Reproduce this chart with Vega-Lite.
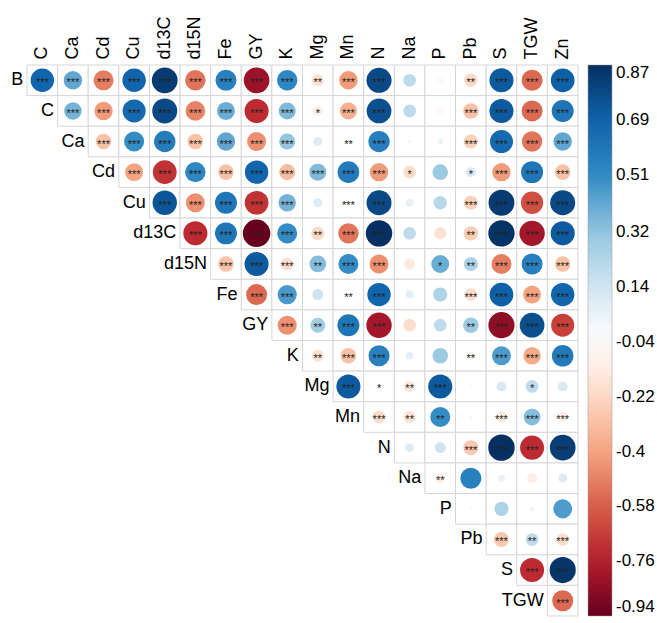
{
  "$schema": "https://vega.github.io/schema/vega-lite/v6.json",
  "width": 551,
  "height": 551,
  "autosize": {"type": "none"},
  "padding": {"left": 27, "top": 65, "right": 79, "bottom": 7},
  "config": {"view": {"stroke": null}, "font": "Liberation Sans", "background": "white"},
  "datasets": {
    "cells": [
      {"r":"B","c":"C","v":0.68,"s":"***"},{"r":"B","c":"Ca","v":0.42,"s":"***"},{"r":"B","c":"Cd","v":-0.5,"s":"***"},{"r":"B","c":"Cu","v":0.68,"s":"***"},{"r":"B","c":"d13C","v":0.83,"s":"***"},{"r":"B","c":"d15N","v":-0.52,"s":"***"},{"r":"B","c":"Fe","v":0.55,"s":"***"},{"r":"B","c":"GY","v":-0.82,"s":"***"},{"r":"B","c":"K","v":0.52,"s":"***"},{"r":"B","c":"Mg","v":-0.18,"s":"**"},{"r":"B","c":"Mn","v":-0.42,"s":"***"},{"r":"B","c":"N","v":0.78,"s":"***"},{"r":"B","c":"Na","v":0.2,"s":""},{"r":"B","c":"P","v":-0.07,"s":""},{"r":"B","c":"Pb","v":-0.22,"s":"**"},{"r":"B","c":"S","v":0.72,"s":"***"},{"r":"B","c":"TGW","v":-0.55,"s":"***"},{"r":"B","c":"Zn","v":0.7,"s":"***"},
      {"r":"C","c":"Ca","v":0.38,"s":"***"},{"r":"C","c":"Cd","v":-0.42,"s":"***"},{"r":"C","c":"Cu","v":0.66,"s":"***"},{"r":"C","c":"d13C","v":0.78,"s":"***"},{"r":"C","c":"d15N","v":-0.48,"s":"***"},{"r":"C","c":"Fe","v":0.4,"s":"***"},{"r":"C","c":"GY","v":-0.72,"s":"***"},{"r":"C","c":"K","v":0.36,"s":"***"},{"r":"C","c":"Mg","v":-0.12,"s":"*"},{"r":"C","c":"Mn","v":-0.36,"s":"***"},{"r":"C","c":"N","v":0.76,"s":"***"},{"r":"C","c":"Na","v":0.2,"s":""},{"r":"C","c":"P","v":-0.07,"s":""},{"r":"C","c":"Pb","v":-0.3,"s":"***"},{"r":"C","c":"S","v":0.72,"s":"***"},{"r":"C","c":"TGW","v":-0.55,"s":"***"},{"r":"C","c":"Zn","v":0.6,"s":"***"},
      {"r":"Ca","c":"Cd","v":-0.3,"s":"***"},{"r":"Ca","c":"Cu","v":0.5,"s":"***"},{"r":"Ca","c":"d13C","v":0.57,"s":"***"},{"r":"Ca","c":"d15N","v":-0.3,"s":"***"},{"r":"Ca","c":"Fe","v":0.42,"s":"***"},{"r":"Ca","c":"GY","v":-0.45,"s":"***"},{"r":"Ca","c":"K","v":0.32,"s":"***"},{"r":"Ca","c":"Mg","v":0.1,"s":""},{"r":"Ca","c":"Mn","v":-0.02,"s":"**"},{"r":"Ca","c":"N","v":0.56,"s":"***"},{"r":"Ca","c":"Na","v":0.02,"s":""},{"r":"Ca","c":"P","v":0.04,"s":""},{"r":"Ca","c":"Pb","v":-0.25,"s":"***"},{"r":"Ca","c":"S","v":0.66,"s":"***"},{"r":"Ca","c":"TGW","v":-0.52,"s":"***"},{"r":"Ca","c":"Zn","v":0.42,"s":"***"},
      {"r":"Cd","c":"Cu","v":-0.4,"s":"***"},{"r":"Cd","c":"d13C","v":-0.7,"s":"***"},{"r":"Cd","c":"d15N","v":0.52,"s":"***"},{"r":"Cd","c":"Fe","v":-0.3,"s":"***"},{"r":"Cd","c":"GY","v":0.68,"s":"***"},{"r":"Cd","c":"K","v":-0.32,"s":"***"},{"r":"Cd","c":"Mg","v":0.36,"s":"***"},{"r":"Cd","c":"Mn","v":0.58,"s":"***"},{"r":"Cd","c":"N","v":-0.42,"s":"***"},{"r":"Cd","c":"Na","v":-0.2,"s":"*"},{"r":"Cd","c":"P","v":0.3,"s":""},{"r":"Cd","c":"Pb","v":0.12,"s":"*"},{"r":"Cd","c":"S","v":-0.42,"s":"***"},{"r":"Cd","c":"TGW","v":0.6,"s":"***"},{"r":"Cd","c":"Zn","v":-0.3,"s":"***"},
      {"r":"Cu","c":"d13C","v":0.74,"s":"***"},{"r":"Cu","c":"d15N","v":-0.45,"s":"***"},{"r":"Cu","c":"Fe","v":0.6,"s":"***"},{"r":"Cu","c":"GY","v":-0.7,"s":"***"},{"r":"Cu","c":"K","v":0.38,"s":"***"},{"r":"Cu","c":"Mg","v":0.1,"s":""},{"r":"Cu","c":"Mn","v":-0.04,"s":"***"},{"r":"Cu","c":"N","v":0.78,"s":"***"},{"r":"Cu","c":"Na","v":0.07,"s":""},{"r":"Cu","c":"P","v":0.22,"s":""},{"r":"Cu","c":"Pb","v":-0.25,"s":"***"},{"r":"Cu","c":"S","v":0.83,"s":"***"},{"r":"Cu","c":"TGW","v":-0.62,"s":"***"},{"r":"Cu","c":"Zn","v":0.78,"s":"***"},
      {"r":"d13C","c":"d15N","v":-0.72,"s":"***"},{"r":"d13C","c":"Fe","v":0.6,"s":"***"},{"r":"d13C","c":"GY","v":-0.94,"s":"***"},{"r":"d13C","c":"K","v":0.5,"s":"***"},{"r":"d13C","c":"Mg","v":-0.22,"s":"**"},{"r":"d13C","c":"Mn","v":-0.52,"s":"***"},{"r":"d13C","c":"N","v":0.87,"s":"***"},{"r":"d13C","c":"Na","v":0.2,"s":""},{"r":"d13C","c":"P","v":-0.18,"s":""},{"r":"d13C","c":"Pb","v":-0.26,"s":"**"},{"r":"d13C","c":"S","v":0.86,"s":"***"},{"r":"d13C","c":"TGW","v":-0.8,"s":"***"},{"r":"d13C","c":"Zn","v":0.72,"s":"***"},
      {"r":"d15N","c":"Fe","v":-0.3,"s":"***"},{"r":"d15N","c":"GY","v":0.72,"s":"***"},{"r":"d15N","c":"K","v":-0.2,"s":"***"},{"r":"d15N","c":"Mg","v":0.35,"s":"**"},{"r":"d15N","c":"Mn","v":0.5,"s":"***"},{"r":"d15N","c":"N","v":-0.45,"s":"***"},{"r":"d15N","c":"Na","v":-0.15,"s":""},{"r":"d15N","c":"P","v":0.4,"s":"*"},{"r":"d15N","c":"Pb","v":0.25,"s":"**"},{"r":"d15N","c":"S","v":-0.5,"s":"***"},{"r":"d15N","c":"TGW","v":0.55,"s":"***"},{"r":"d15N","c":"Zn","v":-0.3,"s":"***"},
      {"r":"Fe","c":"GY","v":-0.55,"s":"***"},{"r":"Fe","c":"K","v":0.46,"s":"***"},{"r":"Fe","c":"Mg","v":0.15,"s":""},{"r":"Fe","c":"Mn","v":-0.03,"s":"**"},{"r":"Fe","c":"N","v":0.68,"s":"***"},{"r":"Fe","c":"Na","v":0.08,"s":""},{"r":"Fe","c":"P","v":0.25,"s":""},{"r":"Fe","c":"Pb","v":-0.2,"s":"***"},{"r":"Fe","c":"S","v":0.7,"s":"***"},{"r":"Fe","c":"TGW","v":-0.4,"s":"***"},{"r":"Fe","c":"Zn","v":0.68,"s":"***"},
      {"r":"GY","c":"K","v":-0.45,"s":"***"},{"r":"GY","c":"Mg","v":0.28,"s":"**"},{"r":"GY","c":"Mn","v":0.6,"s":"***"},{"r":"GY","c":"N","v":-0.8,"s":"***"},{"r":"GY","c":"Na","v":-0.2,"s":""},{"r":"GY","c":"P","v":0.2,"s":""},{"r":"GY","c":"Pb","v":0.3,"s":"**"},{"r":"GY","c":"S","v":-0.85,"s":"***"},{"r":"GY","c":"TGW","v":0.76,"s":"***"},{"r":"GY","c":"Zn","v":-0.66,"s":"***"},
      {"r":"K","c":"Mg","v":-0.18,"s":"**"},{"r":"K","c":"Mn","v":-0.3,"s":"***"},{"r":"K","c":"N","v":0.55,"s":"***"},{"r":"K","c":"Na","v":0.07,"s":""},{"r":"K","c":"P","v":0.3,"s":""},{"r":"K","c":"Pb","v":-0.1,"s":"**"},{"r":"K","c":"S","v":0.45,"s":"***"},{"r":"K","c":"TGW","v":-0.38,"s":"***"},{"r":"K","c":"Zn","v":0.58,"s":"***"},
      {"r":"Mg","c":"Mn","v":0.72,"s":"***"},{"r":"Mg","c":"N","v":-0.02,"s":"*"},{"r":"Mg","c":"Na","v":-0.15,"s":"**"},{"r":"Mg","c":"P","v":0.72,"s":"***"},{"r":"Mg","c":"Pb","v":0.01,"s":""},{"r":"Mg","c":"S","v":0.12,"s":""},{"r":"Mg","c":"TGW","v":0.2,"s":"*"},{"r":"Mg","c":"Zn","v":0.12,"s":""},
      {"r":"Mn","c":"N","v":-0.2,"s":"***"},{"r":"Mn","c":"Na","v":-0.18,"s":"**"},{"r":"Mn","c":"P","v":0.5,"s":"**"},{"r":"Mn","c":"Pb","v":0.02,"s":""},{"r":"Mn","c":"S","v":-0.15,"s":"***"},{"r":"Mn","c":"TGW","v":0.35,"s":"***"},{"r":"Mn","c":"Zn","v":-0.12,"s":"***"},
      {"r":"N","c":"Na","v":0.1,"s":""},{"r":"N","c":"P","v":0.15,"s":""},{"r":"N","c":"Pb","v":-0.28,"s":"***"},{"r":"N","c":"S","v":0.87,"s":"***"},{"r":"N","c":"TGW","v":-0.72,"s":"***"},{"r":"N","c":"Zn","v":0.82,"s":"***"},
      {"r":"Na","c":"P","v":-0.12,"s":"**"},{"r":"Na","c":"Pb","v":0.55,"s":""},{"r":"Na","c":"S","v":0.06,"s":""},{"r":"Na","c":"TGW","v":-0.12,"s":""},{"r":"Na","c":"Zn","v":0.1,"s":""},
      {"r":"P","c":"Pb","v":0.01,"s":""},{"r":"P","c":"S","v":0.25,"s":""},{"r":"P","c":"TGW","v":0.03,"s":""},{"r":"P","c":"Zn","v":0.45,"s":""},
      {"r":"Pb","c":"S","v":-0.28,"s":"***"},{"r":"Pb","c":"TGW","v":0.2,"s":"**"},{"r":"Pb","c":"Zn","v":-0.2,"s":"***"},
      {"r":"S","c":"TGW","v":-0.72,"s":"***"},{"r":"S","c":"Zn","v":0.85,"s":"***"},
      {"r":"TGW","c":"Zn","v":-0.55,"s":"***"}
    ],
    "rowLabels": [
      {"r":"B","c":"C"},{"r":"C","c":"Ca"},{"r":"Ca","c":"Cd"},{"r":"Cd","c":"Cu"},{"r":"Cu","c":"d13C"},{"r":"d13C","c":"d15N"},{"r":"d15N","c":"Fe"},{"r":"Fe","c":"GY"},{"r":"GY","c":"K"},{"r":"K","c":"Mg"},{"r":"Mg","c":"Mn"},{"r":"Mn","c":"N"},{"r":"N","c":"Na"},{"r":"Na","c":"P"},{"r":"P","c":"Pb"},{"r":"Pb","c":"S"},{"r":"S","c":"TGW"},{"r":"TGW","c":"Zn"}
    ]
  },
  "encoding": {
    "x": {
      "field": "c", "type": "nominal",
      "scale": {"type": "band", "domain": ["C","Ca","Cd","Cu","d13C","d15N","Fe","GY","K","Mg","Mn","N","Na","P","Pb","S","TGW","Zn"], "paddingInner": 0, "paddingOuter": 0},
      "axis": {"orient": "top", "title": null, "ticks": false, "domain": false, "labelAngle": -90, "labelAlign": "left", "labelBaseline": "middle", "labelPadding": 6, "labelFontSize": 18, "labelColor": "black", "labelFont": "Liberation Sans"}
    },
    "y": {
      "field": "r", "type": "nominal",
      "scale": {"type": "band", "domain": ["B","C","Ca","Cd","Cu","d13C","d15N","Fe","GY","K","Mg","Mn","N","Na","P","Pb","S","TGW"], "paddingInner": 0, "paddingOuter": 0},
      "axis": null
    }
  },
  "layer": [
    {
      "data": {"name": "cells"},
      "mark": {"type": "rect", "fill": "white", "stroke": "#d6d6d6", "strokeWidth": 1}
    },
    {
      "data": {"name": "cells"},
      "mark": {"type": "circle", "opacity": 1},
      "encoding": {
        "size": {"field": "v", "type": "quantitative", "scale": {"type": "linear", "domain": [-0.94, 0, 0.87], "range": [756, 0, 700]}, "legend": null},
        "color": {
          "field": "v", "type": "quantitative",
          "scale": {"type": "linear", "interpolate": "rgb",
            "domain": [-0.94, -0.759, -0.578, -0.397, -0.216, -0.035, 0.146, 0.327, 0.508, 0.689, 0.87],
            "range": ["#67001F", "#B61C2C", "#D85E48", "#F4A582", "#FDDBC7", "#FFFFFF", "#D1E5F0", "#92C5DE", "#3089C4", "#0F63AB", "#053061"]},
          "legend": {
            "title": null, "orient": "right", "offset": 10, "direction": "vertical",
            "gradientLength": 551, "gradientThickness": 24,
            "gradientStrokeColor": "#999999", "gradientStrokeWidth": 0.5,
            "values": [0.87, 0.69, 0.51, 0.32, 0.14, -0.04, -0.22, -0.4, -0.58, -0.76, -0.94],
            "labelExpr": "datum.value + ''",
            "labelFontSize": 17, "labelColor": "black", "labelOffset": 4, "labelOverlap": false, "labelFont": "Liberation Sans"
          }
        }
      }
    },
    {
      "data": {"name": "cells"},
      "mark": {"type": "text", "fontSize": 11, "color": "#222222", "baseline": "middle", "dy": 3},
      "encoding": {"text": {"field": "s"}}
    },
    {
      "data": {"name": "rowLabels"},
      "mark": {"type": "text", "fontSize": 18, "color": "black", "align": "right", "baseline": "middle", "dx": -19},
      "encoding": {"text": {"field": "r"}}
    }
  ]
}
